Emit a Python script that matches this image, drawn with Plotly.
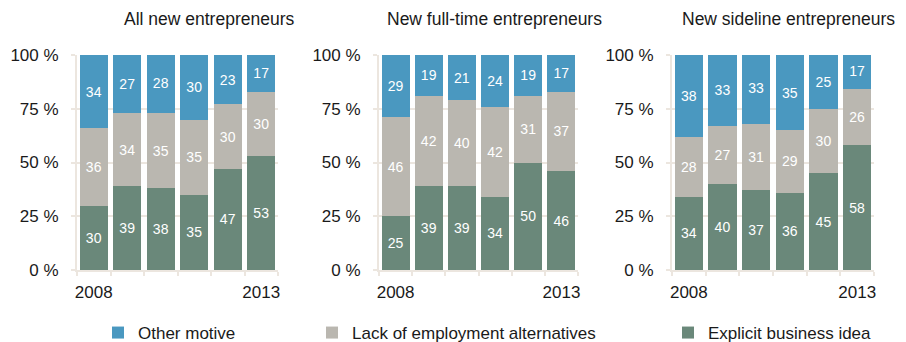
import plotly.graph_objects as go

years = ["2008", "2009", "2010", "2011", "2012", "2013"]
panel_titles = ["All new entrepreneurs", "New full-time entrepreneurs", "New sideline entrepreneurs"]
y_ticks = [0, 25, 50, 75, 100]
y_tick_labels = ["0 %", "25 %", "50 %", "75 %", "100 %"]
x_tick_labels = ["2008", "", "", "", "", "2013"]

# Explicit business idea (bottom), Lack of employment alternatives (middle), Other motive (top)
explicit_all = [30, 39, 38, 35, 47, 53]
lack_all = [36, 34, 35, 35, 30, 30]
other_all = [34, 27, 28, 30, 23, 17]

explicit_full = [25, 39, 39, 34, 50, 46]
lack_full = [46, 42, 40, 42, 31, 37]
other_full = [29, 19, 21, 24, 19, 17]

explicit_side = [34, 40, 37, 36, 45, 58]
lack_side = [28, 27, 31, 29, 30, 26]
other_side = [38, 33, 33, 35, 25, 17]

series_names = ["Explicit business idea", "Lack of employment alternatives", "Other motive"]
series_colors = ["#6a887a", "#bab7b0", "#4a98c0"]
legend_ids = ["legend3", "legend2", "legend"]

panels = [
    [explicit_all, lack_all, other_all],
    [explicit_full, lack_full, other_full],
    [explicit_side, lack_side, other_side],
]

FONT = "Liberation Sans, Arial, sans-serif"
W, H = 906, 342
x_domains = [(77 / W, 278 / W), (379 / W, 578 / W), (672 / W, 874 / W)]
y_domain = (1 - 270 / H, 1 - 55 / H)
grid_col = "#ece6df"

fig = go.Figure()
for p, data in enumerate(panels):
    xa = "x" if p == 0 else f"x{p+1}"
    ya = "y" if p == 0 else f"y{p+1}"
    for s, vals in enumerate(data):
        fig.add_trace(go.Bar(
            x=years, y=vals, name=series_names[s],
            marker=dict(color=series_colors[s], line=dict(width=0)),
            text=[str(v) for v in vals], textposition="inside",
            insidetextanchor="middle", constraintext="none",
            textfont=dict(color="white", size=14, family=FONT),
            xaxis=xa, yaxis=ya, showlegend=(p == 0),
            legend=legend_ids[s], hoverinfo="skip",
        ))

layout = dict(
    width=W, height=H, barmode="stack", bargap=0.16,
    margin=dict(l=0, r=0, t=0, b=0, autoexpand=False),
    paper_bgcolor="white", plot_bgcolor="white",
    font=dict(family=FONT, size=17, color="#1a1a1a"),
)
for p in range(3):
    sfx = "" if p == 0 else str(p + 1)
    layout["xaxis" + sfx] = dict(
        domain=list(x_domains[p]), anchor="y" + sfx, type="category",
        tickmode="array", tickvals=years, ticktext=x_tick_labels, tickangle=0,
        ticks="outside", tickson="boundaries", ticklen=4, tickcolor=grid_col, tickwidth=2,
        showline=True, linecolor=grid_col, linewidth=2,
        showgrid=False, zeroline=False, fixedrange=True, automargin=False,
        ticklabelstandoff=6,
        tickfont=dict(size=17, family=FONT, color="#1a1a1a"),
    )
    layout["yaxis" + sfx] = dict(
        domain=list(y_domain), anchor="x" + sfx, range=[0, 100],
        tickmode="array", tickvals=y_ticks, ticktext=y_tick_labels,
        ticks="outside", ticklen=4, tickcolor=grid_col, tickwidth=2,
        showline=True, linecolor=grid_col, linewidth=2,
        showgrid=True, gridcolor=grid_col, gridwidth=2, zeroline=False,
        ticklabelstandoff=9, fixedrange=True, automargin=False,
        tickfont=dict(size=17, family=FONT, color="#1a1a1a"),
    )

legend_x = [98 / W, 312 / W, 668 / W]
for i, lid in enumerate(["legend", "legend2", "legend3"]):
    layout[lid] = dict(
        orientation="h", x=legend_x[i], xanchor="left",
        y=1 - 333 / H, yanchor="middle", bgcolor="rgba(0,0,0,0)",
        font=dict(size=17, family=FONT, color="#1a1a1a"),
        itemclick=False, itemdoubleclick=False,
    )

fig.update_layout(**layout)

title_x = [209, 494, 788]
for t, xc in zip(panel_titles, title_x):
    fig.add_annotation(
        text=t, x=xc / W, y=1 - 19 / H, xref="paper", yref="paper",
        xanchor="center", yanchor="middle", showarrow=False,
        font=dict(size=17.5, family=FONT, color="#1a1a1a"),
    )

fig.write_html("out.html")
